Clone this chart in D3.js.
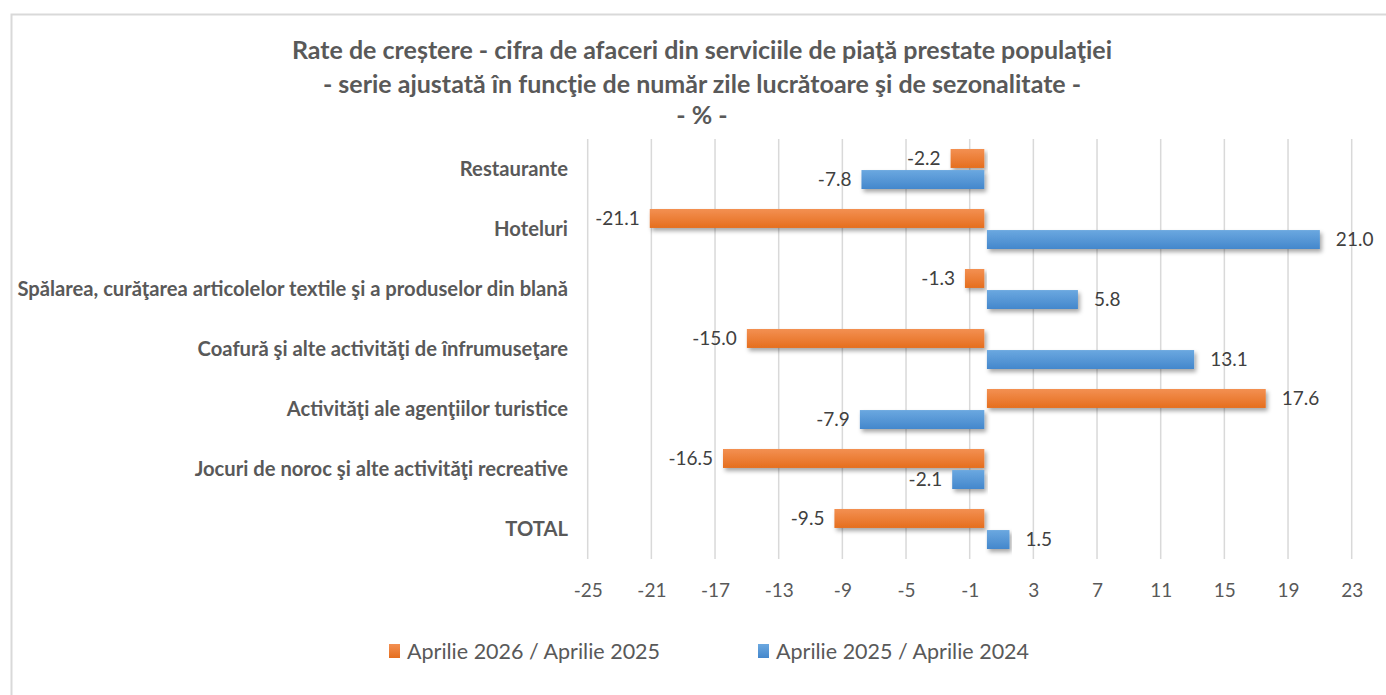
<!DOCTYPE html>
<html>
<head>
<meta charset="utf-8">
<script src="https://cdn.jsdelivr.net/npm/d3@7"></script>
<style>
  body { margin: 0; background: #fff; }
  svg { display: block; font-family: Lato, 'Open Sans', sans-serif; }
</style>
</head>
<body>
<div id="chart"></div>
<script>
// chart data
const categories = [
  'Restaurante',
  'Hoteluri',
  'Spălarea, curăţarea articolelor textile şi a produselor din blană',
  'Coafură şi alte activităţi de înfrumuseţare',
  'Activităţi ale agenţiilor turistice',
  'Jocuri de noroc şi alte activităţi recreative',
  'TOTAL'
]
const seriesNames = ['Aprilie 2026 / Aprilie 2025', 'Aprilie 2025 / Aprilie 2024']
const values2026 = [-2.2, -21.1, -1.3, -15.0, 17.6, -16.5, -9.5]
const values2025 = [-7.8, 21.0, 5.8, 13.1, -7.9, -2.1, 1.5]
const tickValues = [-25, -21, -17, -13, -9, -5, -1, 3, 7, 11, 15, 19, 23]
const titleLines = [
  'Rate de creștere - cifra de afaceri din serviciile de piaţă prestate populaţiei',
  '- serie ajustată în funcţie de număr zile lucrătoare şi de sezonalitate -',
  '- % -'
]

const width = 1386
const height = 695

const svg = d3.select('#chart').append('svg')
  .attr('width', width)
  .attr('height', height)

// gradients + shadow, excel style
const defs = svg.append('defs')
const grads = [
  { id: 'gOrange', top: '#F39052', bottom: '#E56E1E' },
  { id: 'gBlue', top: '#6BA8E0', bottom: '#4487CC' }
]
grads.forEach(g => {
  const lg = defs.append('linearGradient').attr('id', g.id)
    .attr('x1', 0).attr('y1', 0).attr('x2', 0).attr('y2', 1)
  lg.append('stop').attr('offset', '0%').attr('stop-color', g.top)
  lg.append('stop').attr('offset', '100%').attr('stop-color', g.bottom)
})
const sh = defs.append('filter').attr('id', 'shadow')
  .attr('x', '-5%').attr('y', '-30%').attr('width', '115%').attr('height', '180%')
sh.append('feDropShadow').attr('dx', 2).attr('dy', 3).attr('stdDeviation', 2)
  .attr('flood-color', '#000').attr('flood-opacity', 0.35)

// chart border
svg.append('rect')
  .attr('x', 11.5).attr('y', 14.5)
  .attr('width', width + 10).attr('height', height + 10)
  .attr('fill', 'none').attr('stroke', '#d9d9d9').attr('stroke-width', 2)

// title
svg.append('g').selectAll('text')
  .data(titleLines)
  .join('text')
  .attr('x', 702)
  .attr('y', (d, i) => [59, 93, 124][i])
  .attr('text-anchor', 'middle')
  .attr('fill', '#595959')
  .style('font-weight', 'bold')
  .style('font-size', '25px')
  .text(d => d)

// scales
const x = d3.scaleLinear().domain([-25, 23]).range([587.7, 1351.7])
const y = d3.scaleBand().domain(categories).range([139, 559])
  .paddingInner(1 / 3).paddingOuter(1 / 6)
const ySub = d3.scaleBand().domain(seriesNames).range([0, y.bandwidth()]).paddingInner(0.1)

// gridlines
svg.append('g').selectAll('line')
  .data(tickValues)
  .join('line')
  .attr('x1', d => x(d)).attr('x2', d => x(d))
  .attr('y1', 139).attr('y2', 559)
  .attr('stroke', '#d9d9d9').attr('stroke-width', 1.5)

// x axis labels
const xAxis = svg.append('g')
  .attr('transform', 'translate(0,559)')
  .call(d3.axisBottom(x).tickValues(tickValues).tickSize(0).tickPadding(25)
    .tickFormat(d => String(d)))
xAxis.select('.domain').remove()
xAxis.selectAll('text')
  .attr('fill', '#595959')
  .style('font-size', '19px')
  .style('font-family', 'Lato, sans-serif')

// category labels
svg.append('g').selectAll('text')
  .data(categories)
  .join('text')
  .attr('x', 568)
  .attr('y', d => y(d) + y.bandwidth() / 2)
  .attr('dy', '0.35em')
  .attr('text-anchor', 'end')
  .attr('fill', '#595959')
  .style('font-weight', 'bold')
  .style('font-size', '20.2px')
  .text(d => d)

// bars
const rows = []
categories.forEach((c, i) => {
  rows.push({ cat: c, series: seriesNames[0], value: values2026[i], fill: 'url(#gOrange)' })
  rows.push({ cat: c, series: seriesNames[1], value: values2025[i], fill: 'url(#gBlue)' })
})

const barY = d => y(d.cat) + ySub(d.series)

svg.append('g').selectAll('rect')
  .data(rows)
  .join('rect')
  .attr('x', d => d.value < 0 ? x(d.value) : x(0) + 1.3)
  .attr('width', d => Math.abs(x(d.value) - x(0)) - 1.3)
  .attr('y', barY)
  .attr('height', ySub.bandwidth())
  .attr('fill', d => d.fill)
  .attr('filter', 'url(#shadow)')

// data labels
svg.append('g').selectAll('text')
  .data(rows)
  .join('text')
  .attr('x', d => d.value < 0 ? x(d.value) - 10 : x(d.value) + 16)
  .attr('y', d => barY(d) + ySub.bandwidth() / 2)
  .attr('dy', '0.35em')
  .attr('text-anchor', d => d.value < 0 ? 'end' : 'start')
  .attr('fill', '#404040')
  .style('font-size', '19px')
  .text(d => d.value.toFixed(1))

// legend
const legendX = [389, 758]
const legend = svg.append('g').selectAll('g')
  .data(seriesNames)
  .join('g')
  .attr('transform', (d, i) => `translate(${legendX[i]},651)`)
legend.append('rect')
  .attr('x', 0).attr('y', -7)
  .attr('width', 11).attr('height', 14)
  .attr('fill', (d, i) => i === 0 ? 'url(#gOrange)' : 'url(#gBlue)')
legend.append('text')
  .attr('x', 18).attr('y', 0)
  .attr('dy', '0.35em')
  .attr('fill', '#595959')
  .style('font-size', '21.5px')
  .text(d => d)
</script>
</body>
</html>
